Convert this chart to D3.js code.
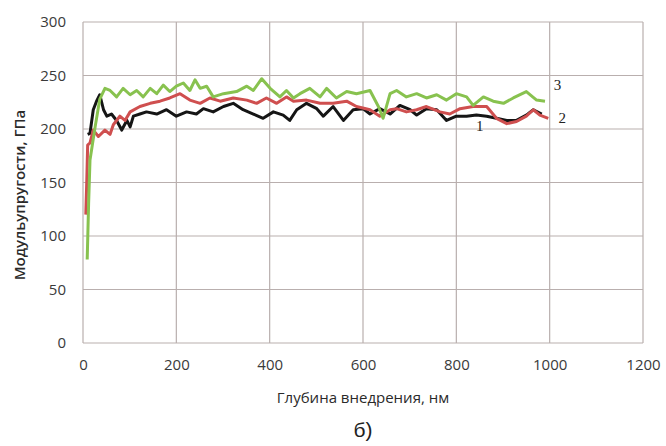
<!DOCTYPE html>
<html>
<head>
<meta charset="utf-8">
<script src="https://cdn.jsdelivr.net/npm/d3@7"></script>
<style>
  body { margin: 0; background: #fff; }
  text { font-family: "Open Sans", sans-serif; }
</style>
</head>
<body>
<div id="chart"></div>
<script>
// series data: [depth nm, modulus GPa]
const curve1 = [[10,195],[15,196],[22,218],[29,226],[36,232],[44,218],[51,212],[61,214],[72,208],[83,199],[94,208],[101,202],[108,212],[122,214],[136,216],[158,214],[179,218],[200,212],[222,216],[243,214],[258,219],[279,216],[301,221],[322,224],[343,218],[365,214],[386,210],[408,216],[429,213],[443,208],[458,218],[479,224],[501,219],[515,212],[536,221],[558,208],[579,218],[600,219],[615,214],[636,219],[658,214],[679,222],[701,218],[715,213],[736,219],[758,218],[779,208],[800,212],[822,212],[843,213],[865,212],[886,210],[908,208],[929,208],[950,213],[965,218],[983,214]];
const curve2 = [[6,120],[8,150],[10,185],[15,187],[22,199],[33,193],[47,199],[58,195],[65,204],[79,212],[90,208],[101,216],[122,221],[144,224],[165,226],[186,229],[208,233],[229,227],[251,224],[272,229],[294,226],[322,229],[351,227],[372,224],[393,229],[415,224],[436,230],[451,226],[479,227],[508,224],[536,224],[565,226],[586,221],[615,218],[636,212],[658,218],[672,219],[693,216],[715,218],[736,221],[765,216],[786,214],[808,219],[836,221],[865,221],[886,210],[908,205],[929,207],[950,212],[965,218],[979,213],[997,210]];
const curve3 = [[9,78],[12,130],[15,171],[26,202],[36,228],[47,238],[58,236],[72,230],[86,238],[101,232],[115,236],[129,230],[144,238],[158,233],[172,241],[186,235],[200,240],[215,243],[229,236],[240,246],[251,238],[265,240],[279,230],[301,233],[329,235],[351,240],[365,236],[383,247],[401,238],[422,230],[436,236],[451,229],[465,233],[486,238],[508,230],[522,238],[543,229],[565,235],[586,233],[615,236],[633,221],[643,210],[658,233],[672,236],[693,230],[715,233],[736,229],[758,232],[779,227],[800,233],[822,230],[836,222],[858,230],[879,226],[901,224],[922,229],[950,235],[972,227],[990,226]];

const xTicks = [0, 200, 400, 600, 800, 1000, 1200];
const yTicks = [0, 50, 100, 150, 200, 250, 300];

// curve number labels: [label, depth, modulus]
const curveLabels = [["1", 850, 198], ["2", 1027, 206], ["3", 1017, 236]];

const margin = { top: 22, right: 23, bottom: 103, left: 83 },
    width = 666 - margin.left - margin.right,
    height = 446 - margin.top - margin.bottom;

const svg = d3.select("#chart")
    .append("svg")
    .attr("width", width + margin.left + margin.right)
    .attr("height", height + margin.top + margin.bottom);

const g = svg.append("g")
    .attr("transform", `translate(${margin.left},${margin.top})`);

const x = d3.scaleLinear().domain([0, 1200]).range([0, width]);
const y = d3.scaleLinear().domain([0, 300]).range([height, 0]);

const gridColor = "#b9afae";

// gridlines
g.append("g")
    .selectAll("line")
    .data(yTicks)
    .enter().append("line")
    .attr("x1", 0).attr("x2", width)
    .attr("y1", d => y(d)).attr("y2", d => y(d))
    .style("stroke", gridColor).style("stroke-width", 1.2);

g.append("g")
    .selectAll("line")
    .data(xTicks)
    .enter().append("line")
    .attr("x1", d => x(d)).attr("x2", d => x(d))
    .attr("y1", 0).attr("y2", height)
    .style("stroke", gridColor).style("stroke-width", 1.2);

// axes (labels only, Excel style)
const xAxis = g.append("g")
    .attr("transform", `translate(0, ${height})`)
    .call(d3.axisBottom(x).tickValues(xTicks).tickFormat(d3.format("d")).tickSize(0).tickPadding(16));
xAxis.select(".domain").remove();
xAxis.selectAll("text")
    .style("font-size", "15px").style("fill", "#3a3a3a")
    .style("font-family", "'Open Sans', sans-serif");

const yAxis = g.append("g")
    .call(d3.axisLeft(y).tickValues(yTicks).tickFormat(d3.format("d")).tickSize(0).tickPadding(17));
yAxis.select(".domain").remove();
yAxis.selectAll("text")
    .style("font-size", "15px").style("fill", "#3a3a3a")
    .style("font-family", "'Open Sans', sans-serif");

// lines
const line = d3.line()
    .x(d => x(d[0]))
    .y(d => y(d[1]));

const series = [
    { data: curve1, color: "#151515" },
    { data: curve2, color: "#cf4f4f" },
    { data: curve3, color: "#88c24f" }
];

g.selectAll(".curve")
    .data(series)
    .enter().append("path")
    .attr("class", "curve")
    .attr("d", d => line(d.data))
    .attr("fill", "none")
    .attr("stroke", d => d.color)
    .attr("stroke-width", 3)
    .attr("stroke-linejoin", "round");

// curve numbers
g.selectAll(".clabel")
    .data(curveLabels)
    .enter().append("text")
    .attr("class", "clabel")
    .attr("x", d => x(d[1]))
    .attr("y", d => y(d[2]))
    .attr("text-anchor", "middle")
    .style("font-family", "'Liberation Serif', serif")
    .style("font-size", "15px")
    .style("fill", "#222")
    .text(d => d[0]);

// axis titles
svg.append("text")
    .attr("x", margin.left + width / 2)
    .attr("y", 403)
    .attr("text-anchor", "middle")
    .style("font-size", "15px")
    .style("fill", "#2a2a2a")
    .text("Глубина внедрения, нм");

svg.append("text")
    .attr("transform", "translate(25,195) rotate(-90)")
    .attr("text-anchor", "middle")
    .style("font-size", "15px")
    .style("font-weight", 600)
    .style("fill", "#2a2a2a")
    .text("Модульупругости, ГПа");

svg.append("text")
    .attr("x", margin.left + width / 2)
    .attr("y", 437)
    .attr("text-anchor", "middle")
    .style("font-family", "'Liberation Sans', sans-serif")
    .style("font-size", "21px")
    .style("fill", "#222")
    .text("б)");
</script>
</body>
</html>
